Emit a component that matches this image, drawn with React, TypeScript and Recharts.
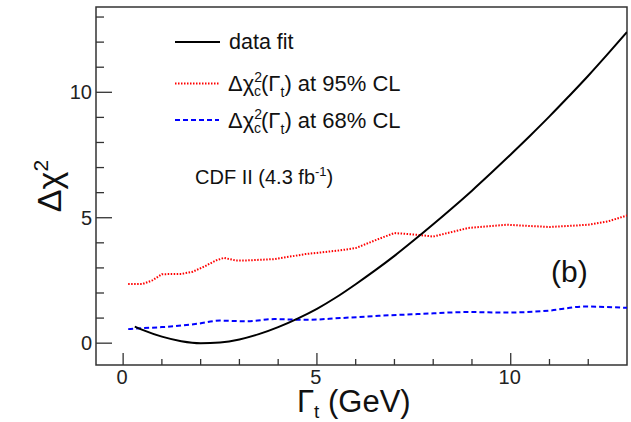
import React from "react";
import { LineChart, Line, XAxis, YAxis, ReferenceArea } from "recharts";

// data fit curve
const fitGamma = [0.3, 0.5, 1.0, 1.5, 2.0, 2.5, 3.0, 3.5, 4.0, 4.5, 5.0, 5.5, 6.0, 6.5, 7.0, 7.5, 8.0, 8.5, 9.0, 9.5, 10.0, 10.5, 11.0, 11.5, 12.0, 12.5, 13.0];
const fitChi2 = [0.66, 0.53, 0.26, 0.08, 0.0, 0.03, 0.15, 0.36, 0.64, 0.98, 1.37, 1.83, 2.35, 2.9, 3.48, 4.1, 4.74, 5.4, 6.08, 6.79, 7.52, 8.27, 9.04, 9.84, 10.66, 11.52, 12.4];

// 95% CL band
const cl95Gamma = [0.13, 0.5, 0.75, 1.0, 1.5, 1.8, 2.1, 2.4, 2.6, 2.9, 3.2, 3.9, 4.7, 5.6, 6.0, 6.6, 7.0, 7.6, 8.0, 8.9, 9.9, 11.0, 12.0, 12.5, 13.0];
const cl95Chi2 = [2.36, 2.36, 2.5, 2.75, 2.76, 2.85, 3.06, 3.3, 3.4, 3.3, 3.3, 3.35, 3.55, 3.7, 3.79, 4.16, 4.39, 4.32, 4.25, 4.59, 4.72, 4.63, 4.72, 4.85, 5.09];

// 68% CL band
const cl68Gamma = [0.13, 0.5, 1.0, 1.9, 2.5, 3.2, 3.9, 4.7, 5.6, 6.6, 7.6, 8.9, 9.9, 11.0, 11.9, 13.0];
const cl68Chi2 = [0.56, 0.6, 0.64, 0.77, 0.9, 0.87, 0.96, 0.93, 1.0, 1.09, 1.16, 1.24, 1.22, 1.3, 1.46, 1.41];

const xTicks = [0, 1, 2, 3, 4, 5, 6, 7, 8, 9, 10, 11, 12];
const yTicks = [0, 1, 2, 3, 4, 5, 6, 7, 8, 9, 10, 11, 12, 13];

const X_MIN = -0.7;
const X_MAX = 13;
const Y_MIN = -0.87;
const Y_MAX = 13.4;

const FONT = "'Liberation Sans', Arial, Helvetica, sans-serif";
const INK = "#333";

const toPoints = (xs: number[], ys: number[]) => xs.map((x, i) => ({ x, y: ys[i] }));

const fitData = toPoints(fitGamma, fitChi2);
const cl95Data = toPoints(cl95Gamma, cl95Chi2);
const cl68Data = toPoints(cl68Gamma, cl68Chi2);

const XTick = (props: any) => {
	const { x, y, payload } = props;
	const major = payload.value % 5 === 0;
	return (
		<g>
			<line x1={x} x2={x} y1={y} y2={y - (major ? 12 : 6)} stroke={INK} strokeWidth={1.3} />
			{major && (
				<text x={x - 1} y={y + 19} textAnchor="middle" fontSize={20} fontFamily={FONT} fill="#222">
					{payload.value}
				</text>
			)}
		</g>
	);
};

const YTick = (props: any) => {
	const { x, y, payload } = props;
	const major = payload.value % 5 === 0;
	return (
		<g>
			<line x1={x} x2={x + (major ? 16 : 8)} y1={y} y2={y} stroke={INK} strokeWidth={1.3} />
			{major && (
				<text x={x - 4} y={y} dy="0.36em" textAnchor="end" fontSize={20} fontFamily={FONT} fill="#222">
					{payload.value}
				</text>
			)}
		</g>
	);
};

const Annotations = () => (
	<svg
		width={631}
		height={422}
		style={{ position: "absolute", left: 0, top: 0, pointerEvents: "none" }}
		fontFamily={FONT}
	>
		{/* axis titles */}
		<text x={61} y={186} fontSize={34} fill="#111" transform="rotate(-90 61 186)" textAnchor="middle">
			Δχ<tspan dy={-13} fontSize={21}>2</tspan>
		</text>
		<text x={297} y={412} fontSize={31} fill="#111">
			Γ<tspan dy={6} fontSize={19}>t</tspan>
			<tspan dy={-6}> (GeV)</tspan>
		</text>

		{/* legend */}
		<line x1={175} x2={220} y1={42} y2={42} stroke="#000" strokeWidth={2} />
		<text x={229} y={49} fontSize={21.5} fill="#111">data fit</text>

		<line x1={175} x2={219} y1={83.5} y2={83.5} stroke="#ff0000" strokeWidth={2} strokeDasharray="1.5 1.5" />
		<text x={228} y={91} fontSize={22} fill="#111">
			Δχ<tspan dy={-9} fontSize={14}>2</tspan>
			<tspan dx={-8} dy={14} fontSize={14}>c</tspan>
			<tspan dy={-5}>(Γ</tspan>
			<tspan dy={6} fontSize={14}>t</tspan>
			<tspan dy={-6}>) at 95% CL</tspan>
		</text>

		<line x1={175} x2={219} y1={120} y2={120} stroke="#0000ff" strokeWidth={2} strokeDasharray="5 3" />
		<text x={228} y={128} fontSize={22} fill="#111">
			Δχ<tspan dy={-9} fontSize={14}>2</tspan>
			<tspan dx={-8} dy={14} fontSize={14}>c</tspan>
			<tspan dy={-5}>(Γ</tspan>
			<tspan dy={6} fontSize={14}>t</tspan>
			<tspan dy={-6}>) at 68% CL</tspan>
		</text>

		<text x={195} y={184} fontSize={20} fill="#111">
			CDF II (4.3 fb<tspan dy={-8} fontSize={13}>-1</tspan>
			<tspan dy={8}>)</tspan>
		</text>

		<text x={551} y={282} fontSize={30} fill="#111">(b)</text>
	</svg>
);

export default function App() {
	return (
		<div style={{ position: "absolute", left: 0, top: 0, width: 631, height: 422, background: "#fff" }}>
			<LineChart width={631} height={422} margin={{ top: 7, right: 4, bottom: 27, left: 36 }}>
				<XAxis
					type="number"
					dataKey="x"
					domain={[X_MIN, X_MAX]}
					allowDataOverflow
					ticks={xTicks}
					interval={0}
					axisLine={false}
					tickLine={false}
					tickSize={0}
					tickMargin={0}
					tick={<XTick />}
					height={30}
				/>
				<YAxis
					type="number"
					dataKey="y"
					domain={[Y_MIN, Y_MAX]}
					allowDataOverflow
					ticks={yTicks}
					interval={0}
					axisLine={false}
					tickLine={false}
					tickSize={0}
					tickMargin={0}
					tick={<YTick />}
					width={60}
				/>
				<ReferenceArea
					x1={X_MIN}
					x2={X_MAX}
					y1={Y_MIN}
					y2={Y_MAX}
					fill="none"
					fillOpacity={0}
					stroke={INK}
					strokeWidth={1.5}
				/>
				<Line
					data={cl95Data}
					dataKey="y"
					type="linear"
					stroke="#ff0000"
					strokeWidth={2}
					strokeDasharray="1.5 1.5"
					dot={false}
					isAnimationActive={false}
				/>
				<Line
					data={cl68Data}
					dataKey="y"
					type="monotone"
					stroke="#0000ff"
					strokeWidth={2}
					strokeDasharray="5 3"
					dot={false}
					isAnimationActive={false}
				/>
				<Line
					data={fitData}
					dataKey="y"
					type="monotone"
					stroke="#000"
					strokeWidth={2}
					dot={false}
					isAnimationActive={false}
				/>
			</LineChart>
			<Annotations />
		</div>
	);
}
